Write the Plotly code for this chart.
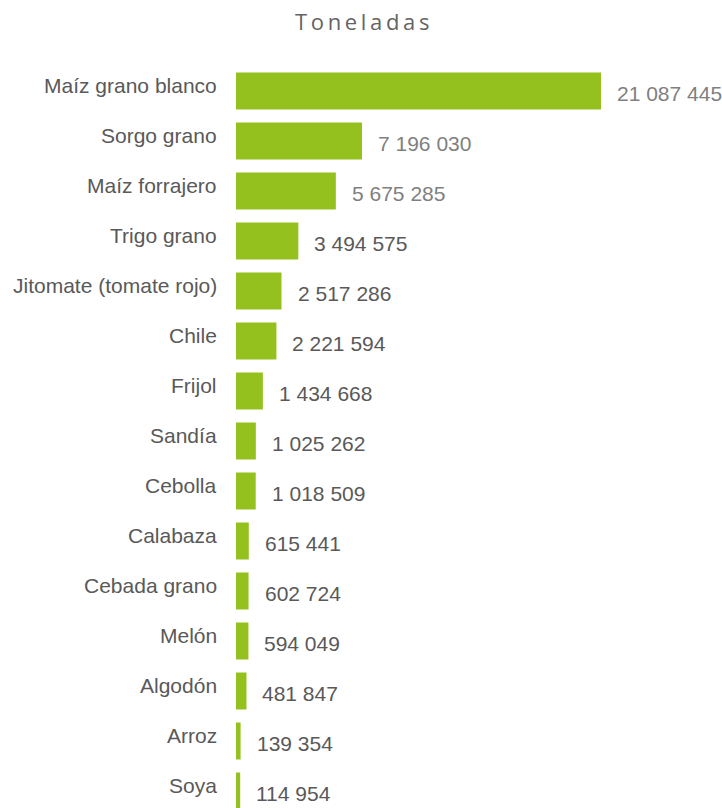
import plotly.graph_objects as go

categories = ["Maíz grano blanco", "Sorgo grano", "Maíz forrajero", "Trigo grano",
              "Jitomate (tomate rojo)", "Chile", "Frijol", "Sandía", "Cebolla",
              "Calabaza", "Cebada grano", "Melón", "Algodón", "Arroz", "Soya"]
values = [21087445, 7196030, 5675285, 3494575, 2517286, 2221594, 1434668, 1025262,
          1018509, 615441, 602724, 594049, 481847, 139354, 114954]
value_labels = ["21 087 445", "7 196 030", "5 675 285", "3 494 575", "2 517 286",
                "2 221 594", "1 434 668", "1 025 262", "1 018 509", "615 441",
                "602 724", "594 049", "481 847", "139 354", "114 954"]
title_text = "Toneladas"

GREEN = "#95C11F"
DARK = "#595959"
LIGHT = "#7F7F7F"

W, H = 722, 808
LEFT, TOP = 236, 66
k = 1.7205e-5          # px per ton
PAD = 2.2 / k          # small visual stub so tiny bars remain visible
plot_w = W - LEFT

fig = go.Figure(go.Bar(
    x=[v + PAD for v in values], base=-PAD, y=categories, orientation="h",
    customdata=values,
    marker=dict(color=GREEN, line=dict(width=0)),
    width=0.74, hovertemplate="%{y}: %{customdata:,}<extra></extra>",
))

annotations = []
for i, (c, v, lab) in enumerate(zip(categories, values, value_labels)):
    annotations.append(dict(
        x=v, y=c, xref="x", yref="y", text=lab, showarrow=False,
        xanchor="left", yanchor="middle", xshift=14, yshift=-2,
        font=dict(family="Liberation Sans, Arial, sans-serif", size=21,
                  color=LIGHT if i < 3 else DARK),
    ))
    annotations.append(dict(
        x=0, y=c, xref="paper", yref="y", text=c, showarrow=False,
        xanchor="right", yanchor="middle", xshift=-17, yshift=6,
        font=dict(family="Liberation Sans, Arial, sans-serif", size=21, color=DARK),
    ))

spaced = "\u2009".join(list(title_text))
annotations.append(dict(
    x=(362 - LEFT) / plot_w, y=1 + (TOP - 21) / (H - TOP), xref="paper", yref="paper",
    text=spaced, showarrow=False, xanchor="center", yanchor="middle",
    font=dict(family="Open Sans, sans-serif", size=22, color="#646464"),
))

fig.update_layout(
    width=W, height=H,
    margin=dict(l=LEFT, r=0, t=TOP, b=0, pad=0),
    paper_bgcolor="white", plot_bgcolor="white",
    showlegend=False,
    xaxis=dict(range=[-PAD, plot_w / k - PAD], visible=False, fixedrange=True, domain=[0, 1]),
    yaxis=dict(categoryorder="array", categoryarray=categories,
               range=[14.34, -0.5], showticklabels=False, showgrid=False,
               zeroline=False, showline=False, ticks="", fixedrange=True),
    annotations=annotations,
)

fig.write_html(
    "out.html",
    config={"displayModeBar": False},
    post_script="document.body.style.margin='0';document.body.style.overflow='hidden';",
)
